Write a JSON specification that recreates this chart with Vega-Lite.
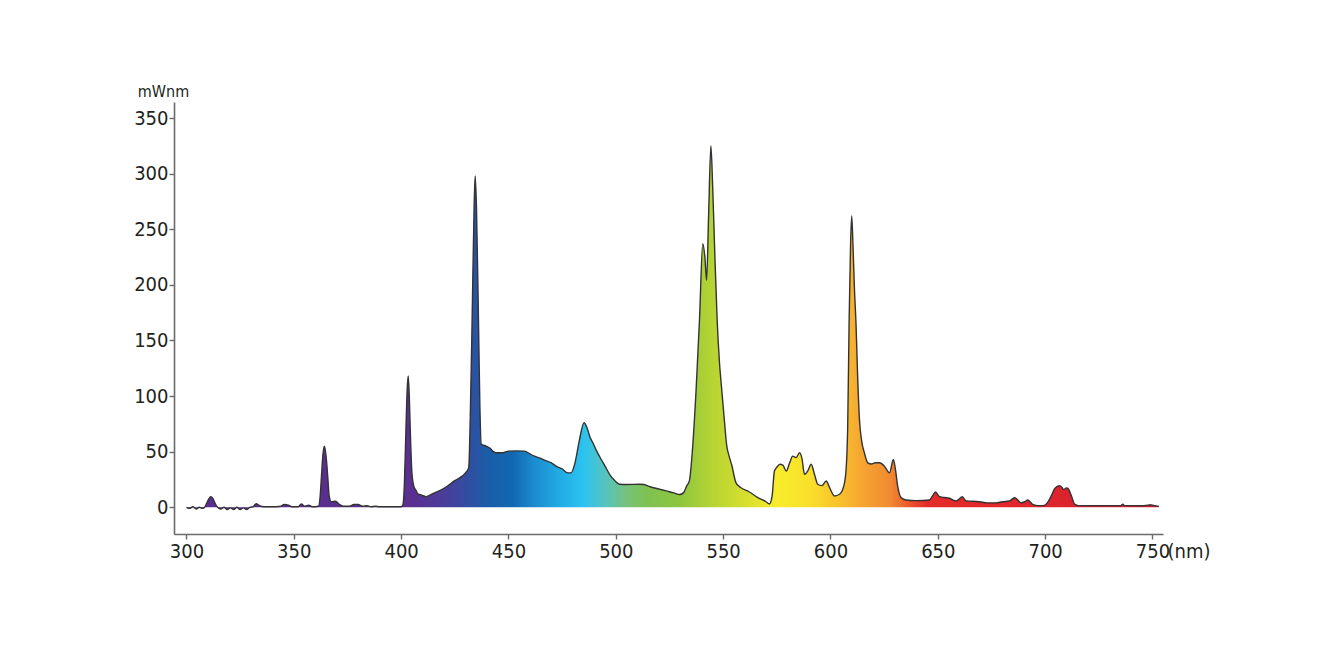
{
  "$schema": "https://vega.github.io/schema/vega-lite/v6.json",
  "width": 989,
  "height": 432,
  "autosize": "none",
  "padding": {"left": 174, "top": 102, "right": 165, "bottom": 136},
  "background": "white",
  "config": {
    "view": {"stroke": null},
    "font": "Liberation Sans Narrow, DejaVu Sans Condensed, sans-serif",
    "axis": {
      "grid": false,
      "domainColor": "#6a6a6a",
      "domainWidth": 1.6,
      "tickColor": "#6a6a6a",
      "tickWidth": 1.4,
      "tickSize": 5,
      "labelColor": "#231f20",
      "labelFontSize": 20,
      "labelFont": "Liberation Sans Narrow, DejaVu Sans Condensed, sans-serif",
      "titleFont": "Liberation Sans Narrow, DejaVu Sans Condensed, sans-serif",
      "titleColor": "#231f20",
      "titleFontWeight": "normal"
    }
  },
  "data": {
    "values": [
      {"nm": 300, "v": 0}, {"nm": 301.5, "v": -1}, {"nm": 303, "v": 0.5}, {"nm": 304.5, "v": -1.5},
      {"nm": 306, "v": 0}, {"nm": 307.5, "v": -1}, {"nm": 308.5, "v": 0}, {"nm": 309.5, "v": 4},
      {"nm": 311.3, "v": 9.6}, {"nm": 312.3, "v": 8}, {"nm": 313.5, "v": 3}, {"nm": 314.5, "v": 0},
      {"nm": 316, "v": -1.5}, {"nm": 317.5, "v": 0}, {"nm": 319, "v": -2}, {"nm": 320.5, "v": -0.5},
      {"nm": 322, "v": -2}, {"nm": 323.5, "v": 0}, {"nm": 325, "v": -2}, {"nm": 326.5, "v": -0.5},
      {"nm": 328, "v": -2}, {"nm": 329.5, "v": 0}, {"nm": 331, "v": 0.5}, {"nm": 332.5, "v": 3.2},
      {"nm": 334, "v": 1.5}, {"nm": 336, "v": 0.5}, {"nm": 340, "v": 0.5}, {"nm": 344, "v": 1},
      {"nm": 345.5, "v": 2.5}, {"nm": 347.5, "v": 2}, {"nm": 349, "v": 0.5}, {"nm": 352, "v": 0.5},
      {"nm": 353.5, "v": 3}, {"nm": 355, "v": 1}, {"nm": 357, "v": 2}, {"nm": 358.5, "v": 0.5},
      {"nm": 361.5, "v": 1}, {"nm": 362.2, "v": 8}, {"nm": 362.9, "v": 28}, {"nm": 363.6, "v": 48},
      {"nm": 364.3, "v": 55}, {"nm": 365.1, "v": 45}, {"nm": 365.8, "v": 28}, {"nm": 366.5, "v": 10},
      {"nm": 367.5, "v": 5}, {"nm": 369.5, "v": 5.5}, {"nm": 371, "v": 3}, {"nm": 373, "v": 1},
      {"nm": 376, "v": 1}, {"nm": 378, "v": 2.5}, {"nm": 380, "v": 2.5}, {"nm": 382, "v": 1},
      {"nm": 384, "v": 1.5}, {"nm": 386, "v": 0.5}, {"nm": 388, "v": 1}, {"nm": 390, "v": 0.5},
      {"nm": 395, "v": 0.5}, {"nm": 400, "v": 0.5}, {"nm": 400.8, "v": 2}, {"nm": 401.5, "v": 20},
      {"nm": 402.2, "v": 67}, {"nm": 402.8, "v": 105}, {"nm": 403.3, "v": 118}, {"nm": 403.8, "v": 100},
      {"nm": 404.3, "v": 67}, {"nm": 405, "v": 32}, {"nm": 405.9, "v": 19}, {"nm": 407, "v": 15},
      {"nm": 407.8, "v": 12}, {"nm": 409.5, "v": 11}, {"nm": 411.5, "v": 9.6}, {"nm": 415, "v": 12.5},
      {"nm": 420, "v": 17}, {"nm": 425, "v": 24}, {"nm": 430, "v": 31}, {"nm": 431.5, "v": 35.7},
      {"nm": 432.2, "v": 80}, {"nm": 433.1, "v": 172}, {"nm": 434, "v": 270}, {"nm": 434.5, "v": 298},
      {"nm": 435.1, "v": 270}, {"nm": 436, "v": 172}, {"nm": 436.7, "v": 90}, {"nm": 437.3, "v": 57},
      {"nm": 439.6, "v": 55}, {"nm": 441.5, "v": 53}, {"nm": 443, "v": 50}, {"nm": 444.3, "v": 49},
      {"nm": 447.4, "v": 49}, {"nm": 450, "v": 50.5}, {"nm": 453.6, "v": 50.7}, {"nm": 457.5, "v": 50.5},
      {"nm": 460, "v": 48}, {"nm": 462.1, "v": 46}, {"nm": 465, "v": 44}, {"nm": 467.6, "v": 41.7},
      {"nm": 470, "v": 40}, {"nm": 472.2, "v": 37}, {"nm": 475, "v": 34.5}, {"nm": 477.6, "v": 31},
      {"nm": 479.1, "v": 31}, {"nm": 481, "v": 40}, {"nm": 483, "v": 60}, {"nm": 485.2, "v": 76},
      {"nm": 486.5, "v": 72}, {"nm": 488, "v": 63}, {"nm": 489.3, "v": 58}, {"nm": 491, "v": 51},
      {"nm": 493.2, "v": 43}, {"nm": 495, "v": 37}, {"nm": 497.1, "v": 29.7}, {"nm": 499.5, "v": 24},
      {"nm": 501.7, "v": 20.7}, {"nm": 505, "v": 20.5}, {"nm": 511, "v": 20.7}, {"nm": 513, "v": 20.5},
      {"nm": 516, "v": 18.5}, {"nm": 520, "v": 16.5}, {"nm": 524, "v": 14.5}, {"nm": 527, "v": 13},
      {"nm": 529.7, "v": 11.5}, {"nm": 531.5, "v": 13}, {"nm": 533, "v": 19}, {"nm": 534.3, "v": 24},
      {"nm": 535.6, "v": 49}, {"nm": 537.5, "v": 109}, {"nm": 539, "v": 169}, {"nm": 540.5, "v": 237},
      {"nm": 541.5, "v": 225}, {"nm": 542.3, "v": 204}, {"nm": 543.2, "v": 260}, {"nm": 544.3, "v": 325},
      {"nm": 545.1, "v": 290}, {"nm": 546.1, "v": 229}, {"nm": 547.2, "v": 169}, {"nm": 548.3, "v": 130},
      {"nm": 549.2, "v": 109}, {"nm": 550.5, "v": 80}, {"nm": 551.7, "v": 55}, {"nm": 552.5, "v": 48},
      {"nm": 554, "v": 38}, {"nm": 556, "v": 22}, {"nm": 558, "v": 18}, {"nm": 562, "v": 14},
      {"nm": 566, "v": 9}, {"nm": 570, "v": 5}, {"nm": 571.6, "v": 3}, {"nm": 572.8, "v": 10},
      {"nm": 573.9, "v": 32.7}, {"nm": 575, "v": 36}, {"nm": 576.5, "v": 38.7}, {"nm": 577.8, "v": 38},
      {"nm": 579.4, "v": 32.7}, {"nm": 581, "v": 40}, {"nm": 582.4, "v": 46}, {"nm": 584, "v": 44.7},
      {"nm": 585.6, "v": 49}, {"nm": 586.7, "v": 44}, {"nm": 587.9, "v": 29.7}, {"nm": 589.5, "v": 33},
      {"nm": 591, "v": 38.7}, {"nm": 592.5, "v": 30}, {"nm": 594.1, "v": 20.7}, {"nm": 596, "v": 19.5},
      {"nm": 598, "v": 23.7}, {"nm": 599.5, "v": 18}, {"nm": 601.9, "v": 10.2}, {"nm": 604.2, "v": 11.7},
      {"nm": 605.5, "v": 15}, {"nm": 607, "v": 28}, {"nm": 608, "v": 70}, {"nm": 608.7, "v": 169},
      {"nm": 609.4, "v": 240}, {"nm": 609.9, "v": 262}, {"nm": 610.5, "v": 235}, {"nm": 611.2, "v": 195},
      {"nm": 611.9, "v": 165}, {"nm": 612.7, "v": 115}, {"nm": 613.5, "v": 79}, {"nm": 614.5, "v": 60},
      {"nm": 615.8, "v": 49}, {"nm": 617.4, "v": 40}, {"nm": 619, "v": 39}, {"nm": 621, "v": 40},
      {"nm": 622.8, "v": 40}, {"nm": 625.1, "v": 37}, {"nm": 627.5, "v": 31}, {"nm": 629.3, "v": 43},
      {"nm": 630.2, "v": 35}, {"nm": 631.3, "v": 19}, {"nm": 632.9, "v": 8.7}, {"nm": 635.2, "v": 6.6},
      {"nm": 640, "v": 6}, {"nm": 646.1, "v": 6.6}, {"nm": 647.5, "v": 10}, {"nm": 648.9, "v": 13.8},
      {"nm": 650.8, "v": 9.6}, {"nm": 653, "v": 8.8}, {"nm": 655.4, "v": 8.1}, {"nm": 658.5, "v": 5.7},
      {"nm": 660, "v": 7.5}, {"nm": 661.3, "v": 9.6}, {"nm": 663.2, "v": 5.7}, {"nm": 666, "v": 5.5},
      {"nm": 669.4, "v": 5}, {"nm": 673, "v": 4}, {"nm": 677.2, "v": 4}, {"nm": 680, "v": 5},
      {"nm": 683.4, "v": 5.7}, {"nm": 685.7, "v": 8.6}, {"nm": 687, "v": 7}, {"nm": 688.8, "v": 4},
      {"nm": 690.5, "v": 5}, {"nm": 691.9, "v": 6.6}, {"nm": 694.2, "v": 2.6}, {"nm": 697, "v": 1.5},
      {"nm": 699, "v": 1.5}, {"nm": 701, "v": 4}, {"nm": 702.9, "v": 10.5}, {"nm": 704.5, "v": 17},
      {"nm": 706.7, "v": 19.5}, {"nm": 707.8, "v": 18}, {"nm": 708.6, "v": 16}, {"nm": 710, "v": 17.5},
      {"nm": 710.6, "v": 17}, {"nm": 712.2, "v": 10.5}, {"nm": 713.7, "v": 3}, {"nm": 715.5, "v": 1.5},
      {"nm": 717.5, "v": 1.5}, {"nm": 725, "v": 1.5}, {"nm": 735, "v": 1.5}, {"nm": 736.2, "v": 2.8},
      {"nm": 737, "v": 1.5}, {"nm": 745, "v": 1.5}, {"nm": 748, "v": 2}, {"nm": 749.4, "v": 2.2},
      {"nm": 751, "v": 1.5}, {"nm": 753, "v": 0.8}
    ]
  },
  "encoding": {
    "x": {
      "field": "nm",
      "type": "quantitative",
      "scale": {"domain": [294.2, 754.9], "nice": false, "zero": false},
      "axis": {
        "values": [300, 350, 400, 450, 500, 550, 600, 650, 700, 750],
        "labelPadding": 2,
        "title": "(nm)",
        "titleFontSize": 20,
        "titleX": 993,
        "titleY": 7,
        "titleAlign": "left",
        "titleAnchor": null,
        "titleBaseline": "top"
      }
    },
    "y": {
      "field": "v",
      "type": "quantitative",
      "scale": {"domain": [-24, 364.4], "nice": false, "zero": false},
      "axis": {
        "values": [0, 50, 100, 150, 200, 250, 300, 350],
        "labelPadding": 1,
        "title": "mWnm",
        "titleFontSize": 16,
        "titleAngle": 0,
        "titleX": -11,
        "titleY": -6,
        "titleAlign": "center",
        "titleBaseline": "alphabetic"
      }
    }
  },
  "layer": [
    {
      "mark": {
        "type": "area",
        "interpolate": "monotone",
        "color": {
          "gradient": "linear",
          "x1": 0, "x2": 1, "y1": 0, "y2": 0,
          "stops": [
            {"offset": 0, "color": "#5b2d8e"},
            {"offset": 0.2318, "color": "#5a2f91"},
            {"offset": 0.2649, "color": "#4a3d9a"},
            {"offset": 0.2914, "color": "#2f4fa2"},
            {"offset": 0.3091, "color": "#1b5ca8"},
            {"offset": 0.3355, "color": "#1168b2"},
            {"offset": 0.3576, "color": "#1c8ccf"},
            {"offset": 0.3863, "color": "#22aee6"},
            {"offset": 0.4084, "color": "#2cc3f0"},
            {"offset": 0.4305, "color": "#55c3c0"},
            {"offset": 0.4525, "color": "#76c27a"},
            {"offset": 0.4746, "color": "#7fc250"},
            {"offset": 0.5077, "color": "#8dc63f"},
            {"offset": 0.5408, "color": "#b6d433"},
            {"offset": 0.5740, "color": "#d6de2e"},
            {"offset": 0.6071, "color": "#f8ec2c"},
            {"offset": 0.6402, "color": "#f9e02a"},
            {"offset": 0.6733, "color": "#f8bf2c"},
            {"offset": 0.6954, "color": "#f5a431"},
            {"offset": 0.7241, "color": "#f08a30"},
            {"offset": 0.7417, "color": "#ec5a2b"},
            {"offset": 0.7616, "color": "#e52a2a"},
            {"offset": 0.8830, "color": "#e0242b"},
            {"offset": 1, "color": "#c81f33"}
          ]
        }
      }
    },
    {
      "mark": {"type": "line", "interpolate": "monotone", "color": "#333333", "strokeWidth": 1.4}
    }
  ]
}
